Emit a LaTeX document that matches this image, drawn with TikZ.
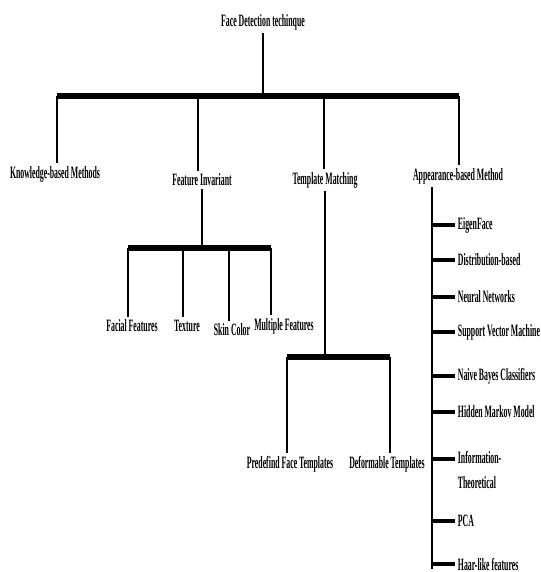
\documentclass[tikz,border=0pt]{standalone}
\usepackage{fontspec}
\newfontfamily\treefont[FakeStretch=0.45]{Liberation Serif}

\begin{document}
\begin{tikzpicture}[
  x=0.75pt, y=-0.75pt,
  lbl/.style={inner sep=2pt, font=\treefont\bfseries\fontsize{13}{14}\selectfont},
  link/.style={line width=1.5pt},
  bar/.style={line width=3.8pt},
  tick/.style={line width=3pt}
]
  \useasboundingbox (0,0) rectangle (541,572);
  \node[lbl] (r) at (263,22) {Face Detection techinque};
  \node[lbl] (k) at (55,174) {Knowledge-based Methods};
  \node[lbl] (f) at (202,180) {Feature Invariant};
  \node[lbl] (t) at (325,180) {Template Matching};
  \node[lbl] (a) at (458,176) {Appearance-based Method};
  \coordinate (j) at (263,96);
  \coordinate (b1) at (57,96);
  \coordinate (b2) at (198,96);
  \coordinate (b3) at (324,96);
  \coordinate (b4) at (459,96);
  \draw[link] (r) -- (j);
  \draw[bar] (b1) -- (b4);
  \draw[link] (b1) -- (b1 |- k.north);
  \draw[link] (b2) -- (b2 |- f.north);
  \draw[link] (b3) -- (b3 |- t.north);
  \draw[link] (b4) -- (b4 |- a.north);

  \node[lbl] (ff) at (132,326) {Facial Features};
  \node[lbl] (tx) at (187,326) {Texture};
  \node[lbl] (sc) at (232,330) {Skin Color};
  \node[lbl] (mf) at (284,326) {Multiple Features};
  \coordinate (fj) at (202,248);
  \coordinate (f1) at (128,248);
  \coordinate (f2) at (183,248);
  \coordinate (f3) at (229,248);
  \coordinate (f4) at (271,248);
  \draw[link] (f) -- (fj);
  \draw[bar] (f1) -- (f4);
  \draw[link] (f1) -- (f1 |- ff.north);
  \draw[link] (f2) -- (f2 |- tx.north);
  \draw[link] (f3) -- (f3 |- sc.north);
  \draw[link] (f4) -- (f4 |- mf.north);

  \node[lbl] (pf) at (290,464) {Predefind Face Templates};
  \node[lbl] (dt) at (387,464) {Deformable Templates};
  \coordinate (tj) at (325,357);
  \coordinate (t1) at (287,357);
  \coordinate (t2) at (390,357);
  \draw[link] (t) -- (tj);
  \draw[bar] (t1) -- (t2);
  \draw[link] (t1) -- (t1 |- pf.north);
  \draw[link] (t2) -- (t2 |- dt.north);

  \node[lbl, anchor=west] (e1) at (455,225) {EigenFace};
  \node[lbl, anchor=west] (e2) at (455,260) {Distribution-based};
  \node[lbl, anchor=west] (e3) at (455,297) {Neural Networks};
  \node[lbl, anchor=west] (e4) at (455,332) {Support Vector Machine};
  \node[lbl, anchor=west] (e5) at (455,376) {Naive Bayes Classifiers};
  \node[lbl, anchor=west] (e6) at (455,412) {Hidden Markov Model};
  \node[lbl, anchor=north west, align=left] (e7) at (455,448) {Information-\\[5pt]Theoretical};
  \node[lbl, anchor=west] (e8) at (455,521) {PCA};
  \node[lbl, anchor=west] (e9) at (455,564) {Haar-like features};
  \coordinate (a1) at (432,225);
  \coordinate (a2) at (432,260);
  \coordinate (a3) at (432,297);
  \coordinate (a4) at (432,332);
  \coordinate (a5) at (432,376);
  \coordinate (a6) at (432,412);
  \coordinate (a7) at (432,459);
  \coordinate (a8) at (432,521);
  \coordinate (a9) at (432,564);
  \coordinate (ae) at (432,569);
  \draw[link] (a.south -| ae) -- (ae);
  \draw[tick] (a1) -- (a1 -| e1.west);
  \draw[tick] (a2) -- (a2 -| e2.west);
  \draw[tick] (a3) -- (a3 -| e3.west);
  \draw[tick] (a4) -- (a4 -| e4.west);
  \draw[tick] (a5) -- (a5 -| e5.west);
  \draw[tick] (a6) -- (a6 -| e6.west);
  \draw[tick] (a7) -- (a7 -| e7.west);
  \draw[tick] (a8) -- (a8 -| e8.west);
  \draw[tick] (a9) -- (a9 -| e9.west);
\end{tikzpicture}
\end{document}
